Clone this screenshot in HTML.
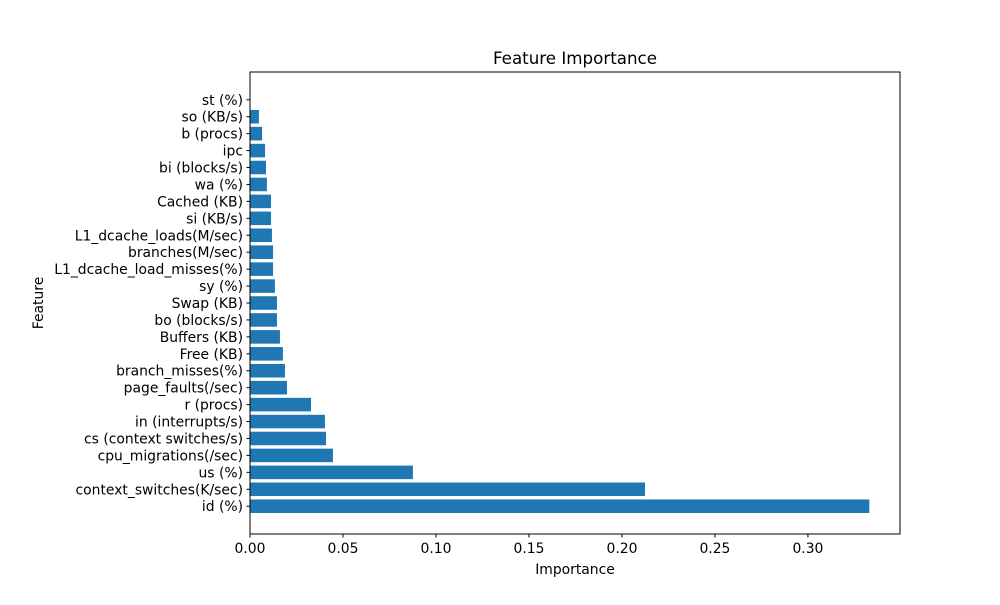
<!DOCTYPE html>
<html><head><meta charset="utf-8"><style>
body{margin:0;background:#fff;font-family:"Liberation Sans","DejaVu Sans",sans-serif}
</style></head><body>
<svg id="chart" width="1000" height="600" xmlns="http://www.w3.org/2000/svg" font-family="DejaVu Sans, Liberation Sans, sans-serif">
<rect width="1000" height="600" fill="#fff"/>
<text x="575" y="64" text-anchor="middle" font-size="16.7">Feature Importance</text>
<text x="575" y="574" text-anchor="middle" font-size="13.9">Importance</text>
<text transform="translate(43,303) rotate(-90)" text-anchor="middle" font-size="13.9">Feature</text>
<g id="bars"></g><g id="ticks"></g>
<rect x="250" y="72" width="650" height="462" fill="none" stroke="#000" stroke-width="1"/>
</svg>
<script>
const features=["id (%)","context_switches(K/sec)","us (%)","cpu_migrations(/sec)","cs (context switches/s)","in (interrupts/s)","r (procs)","page_faults(/sec)","branch_misses(%)","Free (KB)","Buffers (KB)","bo (blocks/s)","Swap (KB)","sy (%)","L1_dcache_load_misses(%)","branches(M/sec)","L1_dcache_loads(M/sec)","si (KB/s)","Cached (KB)","wa (%)","bi (blocks/s)","ipc","b (procs)","so (KB/s)","st (%)"];
const importances=[0.333,0.2124,0.0876,0.0446,0.0409,0.0403,0.0328,0.0199,0.0188,0.0177,0.0161,0.0145,0.0145,0.0134,0.0124,0.0124,0.0118,0.0113,0.0113,0.0091,0.0086,0.0081,0.0065,0.0048,0.0002];
const xTicks=[0,0.05,0.1,0.15,0.2,0.25,0.3];
const xTickLabels=["0.00","0.05","0.10","0.15","0.20","0.25","0.30"];
const L=250,R=900,T=72,B=534,XMAX=0.3495,YMIN=-1.64,YMAX=25.64;
const xs=v=>L+v/XMAX*(R-L);
const ys=i=>B-(i-YMIN)/(YMAX-YMIN)*(B-T);
const NS="http://www.w3.org/2000/svg";
const bars=document.getElementById('bars'),ticks=document.getElementById('ticks');
const bh=0.8*(B-T)/(YMAX-YMIN);
features.forEach((f,i)=>{
 const r=document.createElementNS(NS,'rect');
 r.setAttribute('x',L);r.setAttribute('y',ys(i)-bh/2);
 r.setAttribute('width',xs(importances[i])-L);r.setAttribute('height',bh);
 r.setAttribute('fill','#1f77b4');
 
 
 bars.appendChild(r);
 const tk=document.createElementNS(NS,'line');
 tk.setAttribute('x1',L-3.5);tk.setAttribute('x2',L);tk.setAttribute('y1',ys(i));tk.setAttribute('y2',ys(i));tk.setAttribute('stroke','#000');
 
 
 ticks.appendChild(tk);
 const t=document.createElementNS(NS,'text');
 t.setAttribute('x',L-7);t.setAttribute('y',ys(i)+5);t.setAttribute('text-anchor','end');t.setAttribute('font-size','13.9');
 t.textContent=f;
 
 
 ticks.appendChild(t);
});
xTicks.forEach((v,i)=>{
 const tk=document.createElementNS(NS,'line');
 tk.setAttribute('x1',xs(v));tk.setAttribute('x2',xs(v));tk.setAttribute('y1',B);tk.setAttribute('y2',B+3.5);tk.setAttribute('stroke','#000');
 
 
 ticks.appendChild(tk);
 const t=document.createElementNS(NS,'text');
 t.setAttribute('x',xs(v));t.setAttribute('y',B+19);t.setAttribute('text-anchor','middle');t.setAttribute('font-size','13.9');
 t.textContent=xTickLabels[i];
 
 
 ticks.appendChild(t);
});
</script>
</body></html>
